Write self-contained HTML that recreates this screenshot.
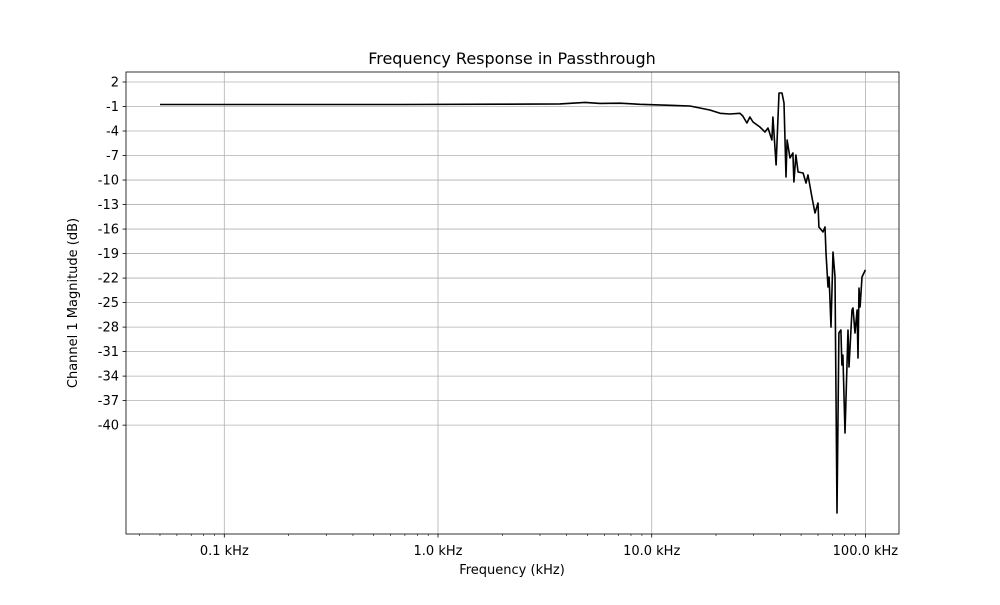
<!DOCTYPE html>
<html><head><meta charset="utf-8"><style>
body{margin:0;background:#fff;font-family:"Liberation Sans","DejaVu Sans",sans-serif}
svg text{font-family:"DejaVu Sans","Liberation Sans",sans-serif;fill:#000}
</style></head><body>
<svg id="chart" width="1000" height="600" xmlns="http://www.w3.org/2000/svg">
<text x="512" y="64" font-size="16" text-anchor="middle">Frequency Response in Passthrough</text>
<text x="512" y="574" font-size="13" text-anchor="middle">Frequency (kHz)</text>
<text transform="translate(77,303) rotate(-90)" font-size="13" text-anchor="middle">Channel 1 Magnitude (dB)</text>
<g id="grid"></g><g id="series"></g><g id="axes"></g>
</svg>
<script>
const freqKHz=[0.05,0.077,0.226,0.664,1.95,3.72,4.87,5.73,7.11,8.81,12.2,15.1,18.7,20.9,23.2,25.9,26.7,27.9,28.8,29.8,32.1,33.9,35.0,36.5,36.9,38.2,39.4,40.7,41.6,42.5,43.0,44.4,45.8,46.3,47.3,48.4,51.1,52.7,53.9,56.2,58.1,60.0,60.6,63.3,64.7,65.4,66.8,67.6,69.0,70.5,72.1,73.6,75.2,76.8,77.6,78.5,80.3,82.9,83.8,86.6,87.5,89.4,91.4,92.3,93.3,94.4,96.4,100];
const magDB=[-0.75,-0.75,-0.75,-0.75,-0.72,-0.68,-0.5,-0.62,-0.6,-0.73,-0.85,-0.94,-1.43,-1.83,-1.92,-1.83,-2.16,-3.02,-2.28,-2.9,-3.51,-4.12,-3.63,-5.1,-2.28,-8.16,0.65,0.65,-0.57,-9.63,-5.1,-7.3,-6.69,-10.24,-6.94,-9.02,-9.14,-10.36,-9.38,-12.07,-14.03,-12.81,-15.75,-16.36,-15.75,-18.93,-23.09,-21.87,-28.0,-18.81,-21.87,-50.75,-28.72,-28.36,-32.64,-31.41,-40.96,-28.36,-32.88,-25.91,-25.66,-28.72,-25.91,-31.78,-23.21,-25.54,-21.87,-21.0];
const yTicks=[2,-1,-4,-7,-10,-13,-16,-19,-22,-25,-28,-31,-34,-37,-40];
const xTicks=[0.1,1,10,100];
const xTickLabels=["0.1 kHz","1.0 kHz","10.0 kHz","100.0 kHz"];
const L=126,R=899,T=72,B=534;
const xs=f=>438+213.7*Math.log10(f);
const ys=d=>82+(2-d)*8.17;
const NS="http://www.w3.org/2000/svg";
function mk(tag,parent,attrs){const e=document.createElementNS(NS,tag);for(const k in attrs)e.setAttribute(k,attrs[k]);document.getElementById(parent).appendChild(e);return e;}
yTicks.forEach(v=>{const y=ys(v);
const g=mk('line','grid',{x1:L,x2:R,y1:y,y2:y,stroke:'#b0b0b0','stroke-width':0.8});


mk('line','axes',{x1:L-3.5,x2:L,y1:y,y2:y,stroke:'#000','stroke-width':0.8});
const t=mk('text','axes',{x:L-7,y:y+4.5,'font-size':13,'text-anchor':'end'});t.textContent=v;

});
xTicks.forEach((v,i)=>{const x=xs(v);
const g=mk('line','grid',{x1:x,x2:x,y1:T,y2:B,stroke:'#b0b0b0','stroke-width':0.8});


mk('line','axes',{x1:x,x2:x,y1:B,y2:B+3.5,stroke:'#000','stroke-width':0.8});
const t=mk('text','axes',{x:x,y:B+21,'font-size':13,'text-anchor':'middle'});t.textContent=xTickLabels[i];

});
for(let d=0.01;d<=100;d*=10){for(let m=2;m<=9;m++){const x=xs(d*m);if(x<L||x>R)continue;
mk('line','axes',{x1:x,x2:x,y1:B,y2:B+2,stroke:'#000','stroke-width':0.6});}}
const frame=mk('rect','axes',{x:L,y:T,width:R-L,height:B-T,fill:'none',stroke:'#000','stroke-width':0.8});


const pts=freqKHz.map((f,i)=>xs(f).toFixed(1)+','+ys(magDB[i]).toFixed(1)).join(' ');
const line=mk('polyline','series',{points:pts,fill:'none',stroke:'#000','stroke-width':1.6,'stroke-linejoin':'round'});


</script>
</body></html>
